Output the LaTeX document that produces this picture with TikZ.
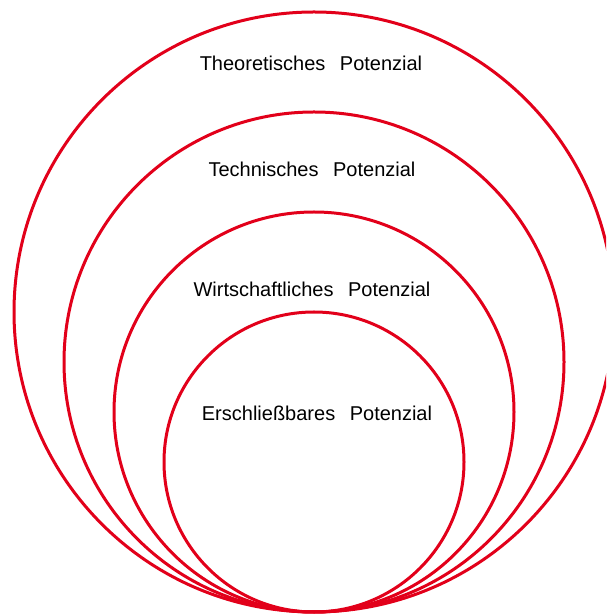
\documentclass[tikz,border=0pt]{standalone}
\usepackage{fontspec}
\setmainfont{Liberation Sans}
\definecolor{ringred}{RGB}{226,0,26}
\begin{document}
\begin{tikzpicture}[x=1pt,y=1pt,
  ring/.style={draw=ringred, line width=3pt},
  lbl/.style={font=\fontsize{20}{24}\selectfont, anchor=base, inner sep=0pt}]
\useasboundingbox (0,0) rectangle (606,616);
\clip (0,0) rectangle (606,616);
\coordinate (t) at (314,4);
\draw[ring] (314,304) circle (300);
\draw[ring] (314,254) circle (250);
\draw[ring] (314,204) circle (200);
\draw[ring] (314,154) circle (150);
\node[lbl] (a) at (311,545) {Theoretisches\hspace{0.45em} Potenzial};
\node[lbl] (b) at (312,439) {Technisches\hspace{0.45em} Potenzial};
\node[lbl] (c) at (312,319) {Wirtschaftliches\hspace{0.45em} Potenzial};
\node[lbl] (d) at (317,195) {Erschließbares\hspace{0.45em} Potenzial};
\end{tikzpicture}
\end{document}
